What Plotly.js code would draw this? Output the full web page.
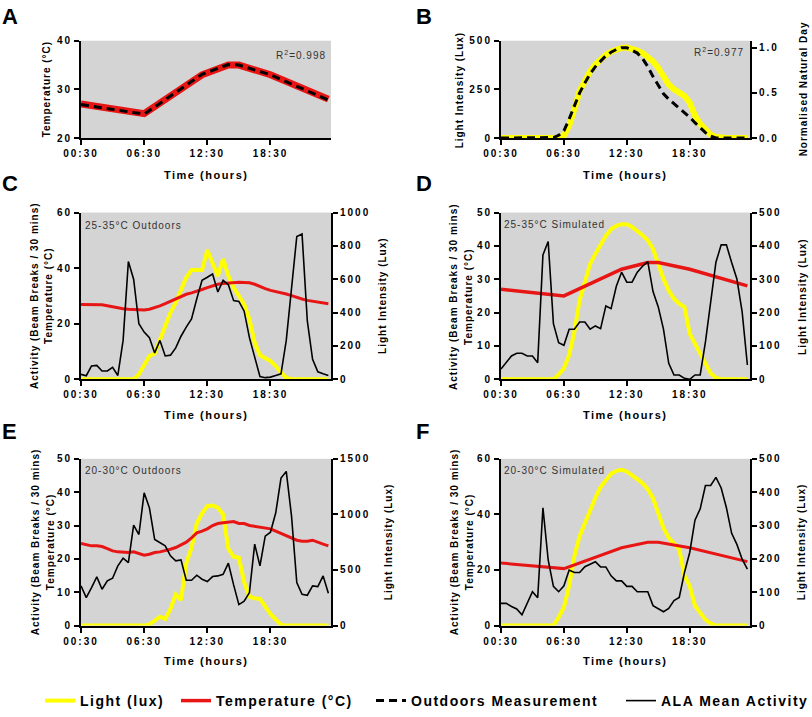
<!DOCTYPE html>
<html>
<head>
<meta charset="utf-8">
<script src="https://cdn.plot.ly/plotly-3.0.1.min.js"></script>
<style>
html,body{margin:0;padding:0;background:#fff;}
#chart{width:812px;height:717px;}
g[class$="tick"] text{letter-spacing:2px;}
.legendtext{letter-spacing:1.5px;}
text.annotation-text[style*="font-size: 11px"]{letter-spacing:1.5px;}
text.annotation-text[style*="font-size: 10px"]{letter-spacing:1px;}
</style>
</head>
<body>
<div id="chart"></div>
<script>
// ---------- DATA ----------
const HALF_HOURS = [0.5,1,1.5,2,2.5,3,3.5,4,4.5,5,5.5,6,6.5,7,7.5,8,8.5,9,9.5,10,10.5,11,11.5,12,12.5,13,13.5,14,14.5,15,15.5,16,16.5,17,17.5,18,18.5,19,19.5,20,20.5,21,21.5,22,22.5,23,23.5,24];
const PROFILE_HOURS = [0.5, 6.5, 12, 14.5, 15.5, 18.5, 24];
const TICK_VALS = [0.5, 6.5, 12.5, 18.5];
const TICK_TEXT = ['00:30', '06:30', '12:30', '18:30'];

// Panel A: simulated 25-35 °C profile vs outdoors measurement
const tempSim2535 = [27, 25, 33, 35, 35, 33, 28];
const tempOutdoorMeas = [26.9, 24.9, 33.1, 35.1, 35.0, 33.0, 27.8];

// Panel B: simulated light vs normalised natural day
const lightSimB = [0,0,0,0,0,0,0,0,0,0,0,0,13,64,149,242,292,343,377,405,427,444,456,463,465,459,449,436,419,394,360,318,275,250,233,216,182,115,73,39,17,5,0,0,0,0,0,0];
const naturalDayNorm = [0,0,0,0,0,0,0,0,0,0,0.005,0.03,0.08,0.21,0.36,0.50,0.61,0.71,0.79,0.85,0.91,0.95,0.98,1.00,1.00,0.97,0.94,0.88,0.79,0.68,0.58,0.49,0.43,0.38,0.34,0.28,0.23,0.17,0.11,0.06,0.02,0,0,0,0,0,0,0];

// Panel C: 25-35 °C outdoors
const activityC = [1.8,1.3,4.8,5,3,3,4.3,1.4,14,42.4,36,20,17,15,9.5,14,8.4,8.7,11.3,15.5,18.8,21.7,29,35.6,36.7,37.9,31.4,35.6,34,28.3,28,24.5,15,8.4,1,0.6,0.8,1.4,2,14,32.9,51.4,52.3,21,7.2,2.7,2,1.4];
const lightC = [0,0,0,0,0,0,0,0,0,0,0,30,80,140,155,240,320,400,460,540,610,655,655,655,775,690,620,720,620,550,500,450,360,220,145,130,110,80,40,10,0,0,0,0,0,0,0,0];
const tempC = [26.9,26.9,26.9,26.9,26.8,26.5,26.1,25.7,25.4,25.2,25.1,24.9,24.9,25.2,25.7,26.4,27.2,28.1,29.0,29.8,30.6,31.1,31.6,32.3,33.0,33.7,34.2,34.5,34.7,34.9,34.9,34.8,34.7,34.2,33.3,32.6,32.0,31.6,31.2,30.7,30.1,29.4,28.9,28.4,28.1,27.8,27.5,27.2];

// Panel D: 25-35 °C simulated
const activityD = [3.1,5,7,7.8,7.8,7,7,5,37.3,41.3,16.7,11,10.2,15,15,17.2,17.2,15,16,15.2,22,21.2,27.9,32.1,29.1,29.1,32.1,33.9,35.3,26.3,21.7,15,4.8,1.3,1.3,0.3,0,1.3,1.3,11.2,23.2,35.1,40.3,40.3,35,30.1,20.2,4.3];
const lightD = [0,0,0,0,0,0,0,0,0,0,0,15,33,73,142,237,296,346,376,406,430,450,460,465,465,457,445,432,417,391,346,301,266,242,227,217,137,107,73,43,18,5,0,0,0,0,0,0];

// Panel E: 20-30 °C outdoors
const activityE = [11.9,8.4,11.4,14.6,10.9,13.4,14.2,17.9,20.2,18.9,30.1,27.3,39.8,35.3,25.8,24.9,23.9,20.9,19.4,19.7,13.6,13.6,15.1,13.9,13.2,14.7,14.9,15.4,18.7,12.2,6.3,7.3,9.9,24.4,17.9,26.8,28.0,33.8,44.2,46.2,32.8,12.9,9.4,9.1,11.9,11.7,14.9,9.7];
const lightE = [0,0,0,0,0,0,0,0,0,0,0,0,0,10,50,80,60,150,280,230,560,700,920,1010,1075,1080,1060,1000,690,620,610,390,260,245,240,165,105,55,8,0,0,0,0,0,0,0,0,0];
const tempE = [24.6,24.2,23.9,23.9,23.7,23.1,22.4,22.1,21.9,21.9,22.1,21.7,21.1,21.4,21.9,22.1,22.4,22.9,23.4,24.1,25.0,26.3,27.8,28.3,29.0,30.0,30.6,30.8,31.0,31.2,30.6,30.6,30.0,29.8,29.6,29.3,29.0,28.3,27.6,26.8,26.3,25.6,25.3,25.3,25.6,24.9,24.4,23.9];

// Panel F: 20-30 °C simulated
const activityF = [8,8,6.9,6,3.9,8.1,12.2,10,42.4,23.6,14.1,12.2,14.3,20,19.1,19.1,21.2,22.1,23,21.1,21.1,17.9,16.1,16.1,14.1,14.1,12.2,12.2,12.2,7.2,6,5,6.2,9,10.1,19.1,26.3,37.9,42,50.4,50.4,53.3,49.5,42.4,33.2,29.2,23.9,20.3];
const lightF = [0,0,0,0,0,0,0,0,0,0,0,25,55,119,209,268,308,348,383,415,437,455,464,467,462,452,439,427,409,382,338,293,263,244,229,149,119,60,40,18,6,0,0,0,0,0,0,0];
const tempSim2030 = [22.5, 20.5, 28, 30, 30, 28, 23];

// ---------- STYLE ----------
const W = 812, H = 717;
const FONT = '"Liberation Sans", Arial, Helvetica, sans-serif';
const YELLOW = '#ffff00', RED = '#e81515', BLACK = '#000000';
const px = v => v / W;
const py = v => 1 - v / H;

const tickFont = {family: FONT, size: 10, weight: 'bold', color: '#000'};
function axisBase(extra) {
  return Object.assign({
    showline: true, linewidth: 2, linecolor: '#000',
    ticks: 'outside', ticklen: 5, tickwidth: 2, tickcolor: '#000',
    showgrid: false, zeroline: false, fixedrange: true,
    tickfont: tickFont
  }, extra);
}
function xAxis(domain, anchor) {
  return axisBase({domain: domain, anchor: anchor, range: [0.5, 24.25],
    tickmode: 'array', tickvals: TICK_VALS, ticktext: TICK_TEXT});
}
function yAxis(domain, anchor, range, dtick, side, overlaying, fmt) {
  const a = axisBase({anchor: anchor, range: range, tick0: 0, dtick: dtick, side: side});
  if (overlaying) a.overlaying = overlaying; else a.domain = domain;
  if (fmt) a.tickformat = fmt;
  return a;
}

const xL = [px(81), px(331)], xR = [px(501), px(750)];
const rowA = [py(139), py(41)], rowC = [py(382), py(214)], rowE = [py(630), py(462)];

function line(x, y, xa, ya, color, width, dash, name, show, rank, lg) {
  return {type: 'scatter', mode: 'lines', x: x, y: y, xaxis: xa, yaxis: ya,
    line: {color: color, width: width, dash: dash || 'solid', shape: 'linear'},
    name: name, showlegend: !!show, legendrank: rank, legend: lg || 'legend',
    hoverinfo: 'skip'};
}

const data = [
  // A
  line(PROFILE_HOURS, tempSim2535, 'x', 'y', RED, 7, null, 'Temperature (°C)', false),
  line(PROFILE_HOURS, tempOutdoorMeas, 'x', 'y', BLACK, 3, '8px,5px', 'Outdoors Measurement', true, 3, 'legend3'),
  // B
  line(HALF_HOURS, lightSimB, 'x2', 'y2', YELLOW, 6, null, 'Light (lux)', false),
  line(HALF_HOURS, naturalDayNorm, 'x2', 'y3', BLACK, 3, '8px,5px', 'Outdoors Measurement', false),
  // C
  line(HALF_HOURS, lightC, 'x3', 'y4', YELLOW, 4, null, 'Light (lux)', true, 1, 'legend'),
  line(HALF_HOURS, tempC, 'x3', 'y5', RED, 3, null, 'Temperature (°C)', false),
  line(HALF_HOURS, activityC, 'x3', 'y5', BLACK, 1.6, null, 'ALA Mean Activity', true, 4, 'legend4'),
  // D
  line(HALF_HOURS, lightD, 'x4', 'y6', YELLOW, 4, null, 'Light (lux)', false),
  line(PROFILE_HOURS, tempSim2535, 'x4', 'y7', RED, 3.5, null, 'Temperature (°C)', true, 2, 'legend2'),
  line(HALF_HOURS, activityD, 'x4', 'y7', BLACK, 1.6, null, 'ALA Mean Activity', false),
  // E
  line(HALF_HOURS, lightE, 'x5', 'y8', YELLOW, 4, null, 'Light (lux)', false),
  line(HALF_HOURS, tempE, 'x5', 'y9', RED, 3, null, 'Temperature (°C)', false),
  line(HALF_HOURS, activityE, 'x5', 'y9', BLACK, 1.6, null, 'ALA Mean Activity', false),
  // F
  line(HALF_HOURS, lightF, 'x6', 'y10', YELLOW, 4, null, 'Light (lux)', false),
  line(PROFILE_HOURS, tempSim2030, 'x6', 'y11', RED, 3, null, 'Temperature (°C)', false),
  line(HALF_HOURS, activityF, 'x6', 'y11', BLACK, 1.6, null, 'ALA Mean Activity', false)
];

// ---------- ANNOTATIONS ----------
const anns = [];
function ann(text, x, y, o) {
  anns.push(Object.assign({text: text, x: px(x), y: py(y), xref: 'paper', yref: 'paper',
    showarrow: false, xanchor: 'center', yanchor: 'middle',
    font: {family: FONT, size: 11, weight: 'bold', color: '#000'}}, o || {}));
}
const letterFont = {family: FONT, size: 22, weight: 'bold', color: '#000'};
[['A', 0, 17], ['B', 414, 17], ['C', 0, 185], ['D', 414, 185], ['E', 0, 435], ['F', 414, 435]]
  .forEach(l => ann(l[0], l[1], l[2], {xanchor: 'left', font: letterFont}));

[[206, 176], [625, 176], [206, 418], [625, 418], [206, 666], [625, 666]]
  .forEach(p => ann('Time (hours)', p[0], p[1]));

const yTitleFont = {family: FONT, size: 10, weight: 'bold', color: '#000'};
function yTitle(text, x, y) { ann(text, x, y, {textangle: -90, font: yTitleFont}); }
yTitle('Temperature (°C)', 46, 90);
yTitle('Light Intensity (Lux)', 459, 90);
yTitle('Normalised Natural Day', 803, 90);
[[35, 49, 383, 298], [454, 469, 803, 299], [35, 50, 388, 546], [454, 469, 801, 546]].forEach(p => {
  yTitle('Activity (Beam Breaks / 30 mins)', p[0], p[3]);
  yTitle('Temperature (°C)', p[1], p[3]);
  yTitle('Light Intensity (Lux)', p[2], p[3]);
});

const innerFont = {family: FONT, size: 10, weight: 'normal', color: '#333'};
ann('R<sup>2</sup>=0.998', 301, 55, {font: innerFont});
ann('R<sup>2</sup>=0.977', 719, 52, {font: innerFont});
ann('25-35°C Outdoors', 83, 227, {xanchor: 'left', font: innerFont});
ann('25-35°C Simulated', 502, 226, {xanchor: 'left', font: innerFont});
ann('20-30°C Outdoors', 83, 474, {xanchor: 'left', font: innerFont});
ann('20-30°C Simulated', 502, 474, {xanchor: 'left', font: innerFont});

// ---------- LAYOUT ----------
const legendFont = {family: FONT, size: 14, weight: 'bold', color: '#000'};
function legendAt(xText) {
  return {orientation: 'h', x: px(xText - 40), y: py(706), xanchor: 'left', yanchor: 'middle',
    bgcolor: 'rgba(0,0,0,0)', borderwidth: 0, font: legendFont, itemclick: false};
}

const layout = {
  width: W, height: H,
  margin: {l: 0, r: 0, t: 0, b: 0, pad: 0},
  paper_bgcolor: '#ffffff',
  plot_bgcolor: '#d4d4d4',
  font: {family: FONT, color: '#000'},
  showlegend: true,
  legend: legendAt(80),
  legend2: legendAt(216),
  legend3: legendAt(411),
  legend4: legendAt(661),
  xaxis: xAxis(xL, 'y'),
  yaxis: yAxis(rowA, 'x', [20, 40], 10, 'left'),
  xaxis2: xAxis(xR, 'y2'),
  yaxis2: yAxis(rowA, 'x2', [0, 500], 250, 'left'),
  yaxis3: yAxis(null, 'x2', [0, 1.077], 0.5, 'right', 'y2', '.1f'),
  xaxis3: xAxis(xL, 'y4'),
  yaxis4: yAxis(rowC, 'x3', [0, 1000], 200, 'right'),
  yaxis5: yAxis(null, 'x3', [0, 60], 20, 'left', 'y4'),
  xaxis4: xAxis(xR, 'y6'),
  yaxis6: yAxis(rowC, 'x4', [0, 500], 100, 'right'),
  yaxis7: yAxis(null, 'x4', [0, 50], 10, 'left', 'y6'),
  xaxis5: xAxis(xL, 'y8'),
  yaxis8: yAxis(rowE, 'x5', [0, 1500], 500, 'right'),
  yaxis9: yAxis(null, 'x5', [0, 50], 10, 'left', 'y8'),
  xaxis6: xAxis(xR, 'y10'),
  yaxis10: yAxis(rowE, 'x6', [0, 500], 100, 'right'),
  yaxis11: yAxis(null, 'x6', [0, 60], 20, 'left', 'y10'),
  annotations: anns
};

Plotly.newPlot('chart', data, layout, {displayModeBar: false, staticPlot: true}).then(function (gd) {
  // letter-spaced legend texts, as in the reference; let them extend past the measured box
  gd.querySelectorAll('.infolayer g[class^="legend"] text').forEach(function (t) {
    t.style.letterSpacing = '1.5px';
  });
  gd.querySelectorAll('.infolayer g[class^="legend"] [clip-path], .infolayer g[class^="legend"][clip-path]').forEach(function (g) {
    g.removeAttribute('clip-path');
  });
});
</script>
</body>
</html>
